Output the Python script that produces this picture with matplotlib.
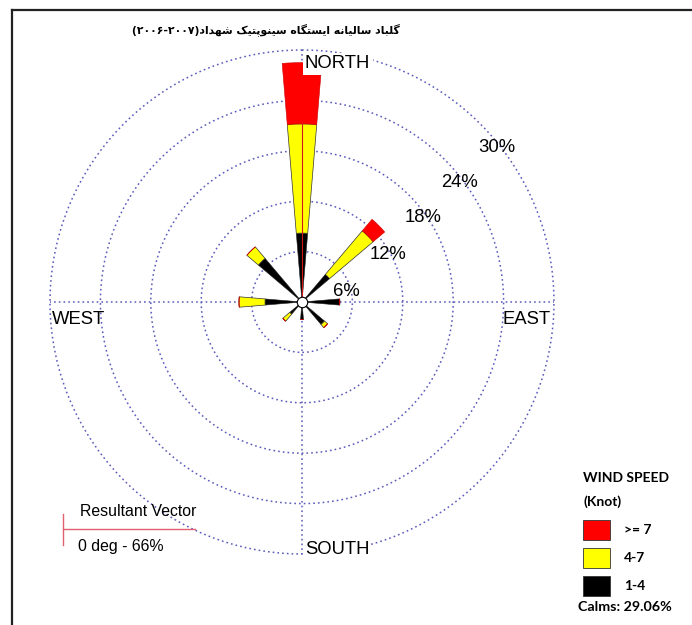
import matplotlib
matplotlib.use('Agg')
import matplotlib.pyplot as plt
import numpy as np
from matplotlib.lines import Line2D
from matplotlib.patches import Rectangle

# wind rose data (percent of time), 16 directions clockwise from north
directions = ['N', 'NNE', 'NE', 'ENE', 'E', 'ESE', 'SE', 'SSE',
              'S', 'SSW', 'SW', 'WSW', 'W', 'WNW', 'NW', 'NNW']
speed_1_4 = [8.2, 0, 4.3, 0, 4.5, 0, 3.5, 0, 2.1, 0, 1.9, 0, 4.4, 0, 6.8, 0]
speed_4_7 = [13.0, 0, 6.8, 0, 0, 0, 0.5, 0, 0, 0, 1.1, 0, 3.1, 0, 1.8, 0]
speed_7up = [7.3, 0, 1.8, 0, 0, 0, 0, 0, 0, 0, 0, 0, 0, 0, 0, 0]
ring_values = [6, 12, 18, 24, 30]
speed_labels = ['>= 7', '4-7', '1-4']
speed_colors = ['#ff0000', '#ffff00', '#000000']
calms = 29.06
resultant_dir = 0
resultant_pct = 66

W, H = 692, 625


def px(x, y):
    # pixel position (from top-left) to figure fraction
    return x / W, 1 - y / H


fig = plt.figure(figsize=(W / 100, H / 100), dpi=100)

# polar axes, centre at (302, 302), 30% ring radius 252 px
cx, cy, R = 302, 302, 252
ax = fig.add_axes([(cx - R) / W, (H - cy - R) / H, 2 * R / W, 2 * R / H],
                  projection='polar')
ax.set_theta_zero_location('N')
ax.set_theta_direction(-1)
ax.set_ylim(0, 30)
ax.axis('off')

grid_col = '#5c5cbc'
dots = (0, (1.1, 2.0))
t = np.linspace(0, 2 * np.pi, 400)
for rv in ring_values:
    ax.plot(t, np.full_like(t, rv), color=grid_col, lw=1.1, ls=dots,
            zorder=1, clip_on=False)
for a in [0, 90, 180, 270]:
    ax.plot([np.radians(a), np.radians(a)], [0, 30], color=grid_col, lw=1.1,
            ls=dots, zorder=1, clip_on=False)

theta = np.radians(np.arange(16) * 22.5)
width = np.radians(9.5)
b1 = np.array(speed_1_4)
b2 = np.array(speed_4_7)
b3 = np.array(speed_7up)
ax.bar(theta, b1, width=width, bottom=0, color=speed_colors[2],
       edgecolor='#222222', lw=0.4, zorder=3)
ax.bar(theta, b2, width=width, bottom=b1, color=speed_colors[1],
       edgecolor='#333333', lw=0.5, zorder=3)
ax.bar(theta, b3, width=width, bottom=b1 + b2, color=speed_colors[0],
       edgecolor='#cc0000', lw=0.4, zorder=3)

# resultant vector line
ax.plot([np.radians(resultant_dir)] * 2, [0, 21.2], color='#d01818',
        lw=0.8, zorder=4)
# calm circle
ax.plot([0], [0], 'o', ms=7.5, mfc='white', mec='black', mew=0.8, zorder=5)

fnt = 'Liberation Sans'
fig.text(*px(305, 64), 'NORTH', fontsize=13.3, family=fnt, ha='left',
         va='center', zorder=10,
         bbox=dict(boxstyle='square,pad=0.12', fc='white', ec='none'))
fig.text(*px(305, 550), 'SOUTH', fontsize=13.3, family=fnt, ha='left',
         va='center', zorder=10,
         bbox=dict(boxstyle='square,pad=0.05', fc='white', ec='none'))
fig.text(*px(502, 320), 'EAST', fontsize=13.3, family=fnt, ha='left',
         va='center')
fig.text(*px(52, 320), 'WEST', fontsize=13.3, family=fnt, ha='left',
         va='center')

ring_pos = [(346, 291), (388, 255), (423, 218), (460, 183), (497, 147)]
for rv, (x, y) in zip(ring_values, ring_pos):
    fig.text(*px(x, y), f'{rv}%', fontsize=13.3, family=fnt, ha='center',
             va='center')

# title (Persian, shaped presentation forms in visual order)
words = [
    [0xFB94, 0xFEE0, 0xFE92, 0xFE8E, 0xFEA9],
    [0xFEB3, 0xFE8E, 0xFEDF, 0xFBFF, 0xFE8E, 0xFEE7, 0xFEEA],
    [0xFE8D, 0xFBFE, 0xFEB4, 0xFE98, 0xFB95, 0xFE8E, 0xFEE9],
    [0xFEB3, 0xFBFF, 0xFEE8, 0xFEEE, 0xFB58, 0xFE98, 0xFBFF, 0xFB8F],
    [0xFEB7, 0xFEEC, 0xFEAA, 0xFE8D, 0xFEA9],
]
persian = ' '.join(''.join(chr(c) for c in w[::-1]) for w in words[::-1])
title = '(\u06f2\u06f0\u06f0\u06f6-\u06f2\u06f0\u06f0\u06f7)' + persian
fig.text(*px(266, 30), title, fontsize=7.8, family='DejaVu Sans',
         weight='bold', ha='center', va='center')

# resultant vector legend
fig.add_artist(Line2D([63 / W, 195 / W], [1 - 529 / H] * 2, color='#e06070',
                      lw=1.0))
fig.add_artist(Line2D([63 / W] * 2, [1 - 514 / H, 1 - 545 / H],
                      color='#e06070', lw=1.0))
fig.text(*px(80, 512), 'Resultant Vector', fontsize=11.4, family=fnt,
         ha='left', va='center')
fig.text(*px(78, 546), f'{resultant_dir} deg - {resultant_pct}%',
         fontsize=11.4, family=fnt, ha='left', va='center')

# wind speed legend
lf = 'Lato'
fig.text(*px(583, 478), 'WIND SPEED', fontsize=10, family=lf,
         weight='bold', ha='left', va='center')
fig.text(*px(583, 502), '(Knot)', fontsize=10, family=lf,
         weight='bold', ha='left', va='center')
box_y = [520, 548, 576]
for lab, col, y in zip(speed_labels, speed_colors, box_y):
    fig.add_artist(Rectangle(px(583, y + 20), 27 / W, 20 / H, fc=col,
                             ec='#333333', lw=0.6, transform=fig.transFigure))
    fig.text(*px(624, y + 10), lab, fontsize=10, family=lf,
             weight='bold', ha='left', va='center')
fig.text(*px(578, 607), f'Calms: {calms:.2f}%', fontsize=10.3, family=lf,
         weight='bold', ha='left', va='center')

# frame lines (top and left)
fig.add_artist(Line2D([12 / W, 1], [1 - 10 / H] * 2, color='#222222', lw=1.6))
fig.add_artist(Line2D([12 / W] * 2, [0, 1 - 10 / H], color='#222222', lw=1.6))

fig.savefig('out.png', dpi=100)
